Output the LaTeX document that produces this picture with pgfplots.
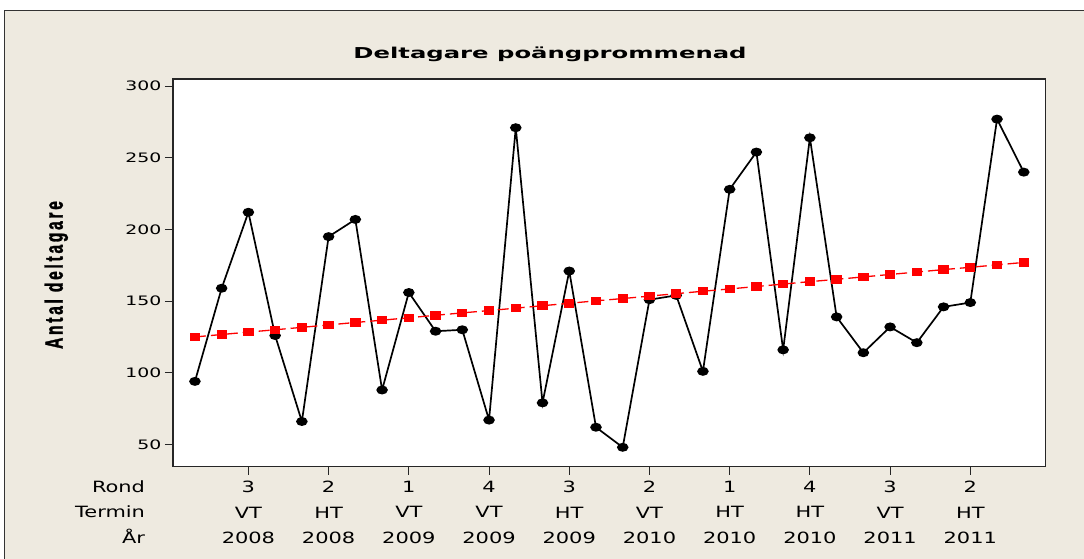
\documentclass[border=0pt]{standalone}
\usepackage{pgfplots}
\pgfplotsset{compat=1.18}
\usepackage{fontspec}
\setmainfont{DejaVu Sans}
\newfontfamily\titlefont[FakeStretch=1.62]{DejaVu Sans}
\newfontfamily\tickfont[FakeStretch=1.45]{DejaVu Sans}
\newfontfamily\labfont[FakeStretch=1.35]{DejaVu Sans}
\newfontfamily\ylabfont[FakeStretch=0.62,LetterSpace=11,FakeBold=1.2]{Liberation Sans Bold}
\definecolor{bg}{RGB}{238,234,224}
\pgfplotstableread{
x y
0 94
1 159
2 212
3 126
4 66
5 195
6 207
7 88
8 156
9 129
10 130
11 67
12 271
13 79
14 171
15 62
16 48
17 151
18 154
19 101
20 228
21 254
22 116
23 264
24 139
25 114
26 132
27 121
28 146
29 149
30 277
31 240
}\actual
\pgfplotstableread{
x y
0 125.0
1 126.7
2 128.4
3 130.0
4 131.7
5 133.4
6 135.1
7 136.7
8 138.4
9 140.1
10 141.8
11 143.4
12 145.1
13 146.8
14 148.5
15 150.2
16 151.8
17 153.5
18 155.2
19 156.9
20 158.5
21 160.2
22 161.9
23 163.6
24 165.2
25 166.9
26 168.6
27 170.3
28 172.0
29 173.6
30 175.3
31 177.0
}\trend
\begin{document}
\begin{tikzpicture}[x=1pt,y=1pt]
\useasboundingbox (0,0) rectangle (1084,-559);
\fill[white] (0,0) rectangle (1084,-559);
\fill[bg] (4.5,-10.5) rectangle (1084,-559);
\draw[line width=1.2pt, black!80] (4.5,-559) -- (4.5,-10.5) -- (1084,-10.5);
\begin{axis}[
  at={(173pt,-466.5pt)}, anchor=south west,
  width=872.7pt, height=387.5pt, scale only axis,
  xmin=-0.82, xmax=31.82, ymin=34.6, ymax=305,
  axis background/.style={fill=white},
  axis line style={line width=1.3pt, black!85},
  tick align=outside, major tick length=8pt,
  tick style={line width=1pt, black!85},
  xtick pos=bottom, ytick pos=left,
  xtick={2,5,8,11,14,17,20,23,26,29},
  xticklabels={{3\\VT\\2008},{2\\HT\\2008},{1\\VT\\2009},{4\\VT\\2009},{3\\HT\\2009},{2\\VT\\2010},{1\\HT\\2010},{4\\HT\\2010},{3\\VT\\2011},{2\\HT\\2011}},
  xticklabel style={align=center, anchor=north, inner sep=0pt, font=\labfont\fontsize{15.5}{25.8}\selectfont, yshift=-6pt},
  ytick={50,100,150,200,250,300},
  /pgf/number format/assume math mode=true,
  yticklabel style={font=\tickfont\fontsize{13}{15}\selectfont},
  clip=false,
]
\addplot[black, line width=1.7pt, mark=*, mark size=3.6pt, mark options={xscale=1.35, fill=black}] table[x=x,y=y] {\actual};
\addplot[red, line width=1.3pt, dash pattern=on 11pt off 5pt, mark=square*, mark size=3.6pt, mark options={solid, xscale=1.25, fill=red}] table[x=x,y=y] {\trend};
\end{axis}
\node[anchor=base, font=\titlefont\bfseries\fontsize{15}{18}\selectfont] at (550,-58.3) {Deltagare poängprommenad};
\node[anchor=base east, font=\labfont\fontsize{15.5}{18}\selectfont] at (148.5,-492.3) {Rond};
\node[anchor=base east, font=\labfont\fontsize{15.5}{18}\selectfont] at (148.5,-517.7) {Termin};
\node[anchor=base east, font=\labfont\fontsize{15.5}{18}\selectfont] at (148.5,-543.5) {År};
\node[rotate=90, anchor=base, font=\ylabfont\fontsize{25}{30}\selectfont] at (62.7,-275) {Antal deltagare};
\end{tikzpicture}
\end{document}
